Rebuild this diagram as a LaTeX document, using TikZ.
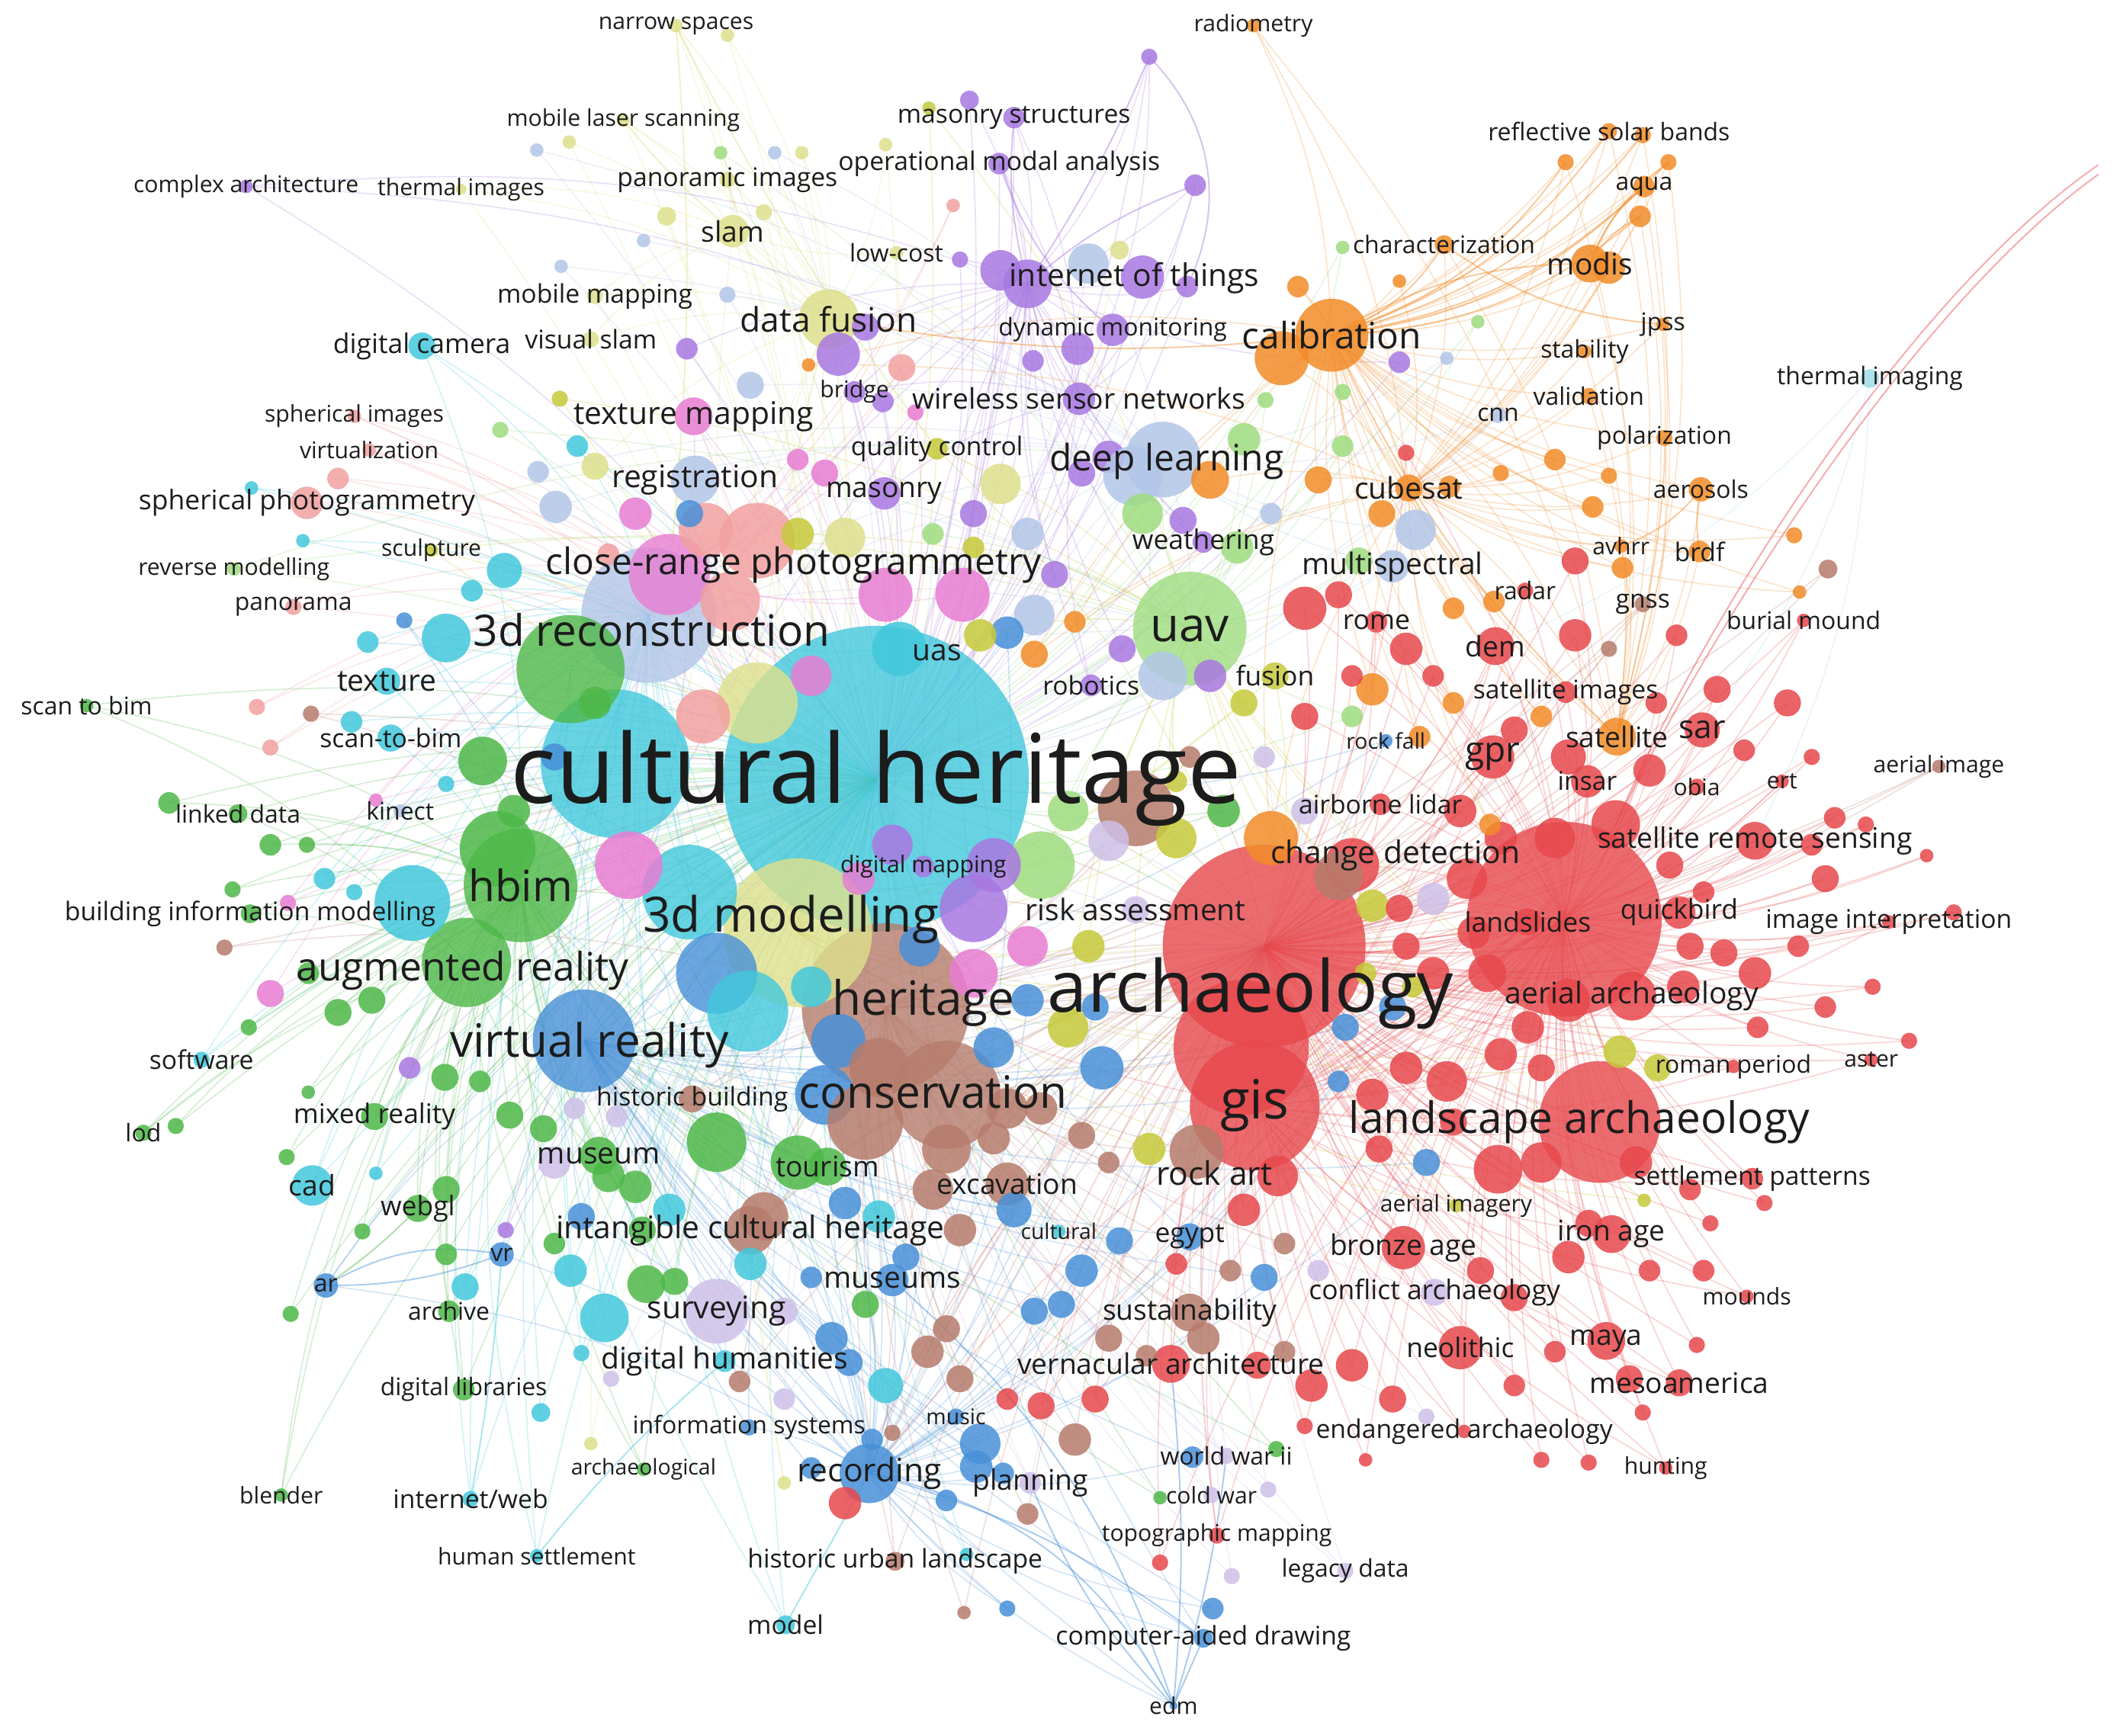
\documentclass[tikz,border=0pt]{standalone}
\usepackage{fontspec}
\setmainfont{Open Sans}
\definecolor{cRed}{RGB}{231,72,76}
\definecolor{cGreen}{RGB}{78,184,72}
\definecolor{cBlue}{RGB}{72,144,216}
\definecolor{cYellow}{RGB}{198,202,58}
\definecolor{cPurple}{RGB}{168,120,225}
\definecolor{cCyan}{RGB}{66,200,220}
\definecolor{cOrange}{RGB}{242,140,40}
\definecolor{cBrown}{RGB}{182,124,108}
\definecolor{cPink}{RGB}{232,125,210}
\definecolor{cSalmon}{RGB}{242,160,160}
\definecolor{cLBlue}{RGB}{178,198,232}
\definecolor{cLGreen}{RGB}{158,220,128}
\definecolor{cLav}{RGB}{206,192,232}
\definecolor{cPYellow}{RGB}{222,224,140}
\definecolor{cLCyan}{RGB}{160,220,232}
\definecolor{txt}{RGB}{28,28,28}
\tikzset{
  lnk/.style={draw=#1, line width=0.9pt, draw opacity=0.24},
  lnkS/.style={draw=#1, line width=1.1pt, draw opacity=0.45},
  lbl/.style={text=txt, inner sep=0pt}
}
% hubs per colour
\def\hubcRed{archaeology}\def\hubbcRed{bigred}\def\hubccRed{gis}
\def\hubcGreen{hbim}\def\hubbcGreen{culturalheritage}\def\hubccGreen{augreality}
\def\hubcBlue{virtualreality}\def\hubbcBlue{recording}\def\hubccBlue{culturalheritage}
\def\hubcYellow{threedmod}\def\hubbcYellow{uav}\def\hubccYellow{archaeology}
\def\hubcPurple{iot}\def\hubbcPurple{culturalheritage}\def\hubccPurple{wsn}
\def\hubcCyan{culturalheritage}\def\hubbcCyan{threedreco}\def\hubccCyan{hbim}
\def\hubcOrange{calibration}\def\hubbcOrange{cubesat}\def\hubccOrange{satellite}
\def\hubcBrown{heritage}\def\hubbcBrown{archaeology}\def\hubccBrown{conservation}
\def\hubcPink{closerange}\def\hubbcPink{culturalheritage}\def\hubccPink{threedmod}
\def\hubcSalmon{closerange}\def\hubbcSalmon{threedreco}\def\hubccSalmon{culturalheritage}
\def\hubcLBlue{deeplearning}\def\hubbcLBlue{culturalheritage}\def\hubccLBlue{uav}
\def\hubcLGreen{uav}\def\hubbcLGreen{culturalheritage}\def\hubccLGreen{deeplearning}
\def\hubcLav{archaeology}\def\hubbcLav{heritage}\def\hubccLav{culturalheritage}
\def\hubcPYellow{datafusion}\def\hubbcPYellow{threedmod}\def\hubccPYellow{slam}
\def\hubcLCyan{sar}\def\hubbcLCyan{dem}\def\hubccLCyan{satrs}
\newcount\blobc
\newcommand\edgeto[3]{\edef\eA{#1}\edef\eB{#2}\ifx\eA\eB\else\draw[lnk=#3] (\eA) to[bend left=12] (\eB);\fi}
\newcommand\LB[5]{\node[lbl] (#1) at (#2,#3) {\fontsize{#4}{#4}\selectfont #5};}
% ---------------- keyword nodes: name, x, y, r, colour, font size, label
\newcommand\kwlist{%
\KW{culturalheritage}{648}{576}{113}{cCyan}{71}{cultural heritage}
\KW{chleft}{455}{565}{55}{cCyan}{0}{}
\KW{archaeology}{935}{700}{75}{cRed}{0}{}
\KW{archb}{918}{775}{50}{cRed}{0}{}
\KW{gis}{928}{818}{48}{cRed}{40}{gis}
\KW{bigred}{1157}{680}{72}{cRed}{0}{}
\KW{landscapearch}{1183}{830}{45}{cRed}{0}{}
\KW{heritage}{655}{745}{62}{cBrown}{0}{}
\KW{conservation}{700}{810}{40}{cBrown}{0}{}
\KW{threedmod}{590}{690}{55}{cPYellow}{0}{}
\KW{uav}{880}{465}{42}{cLGreen}{35}{uav}
\KW{threedreco}{480}{455}{50}{cLBlue}{0}{}
\KW{recogreen}{422}{495}{40}{cGreen}{0}{}
\KW{virtualreality}{432}{770}{38}{cBlue}{0}{}
\KW{hbim}{385}{655}{42}{cGreen}{32}{hbim}
\KW{hbimb}{368}{628}{28}{cGreen}{0}{}
\KW{augreality}{345}{712}{33}{cGreen}{0}{}
\KW{deeplearning}{860}{340}{28}{cLBlue}{0}{}
\KW{calibration}{985}{248}{27}{cOrange}{27}{calibration}
\KW{closerange}{495}{425}{30}{cPink}{0}{}
\KW{datafusion}{613}{236}{22}{cPYellow}{25}{data fusion}
\KW{iot}{760}{210}{18}{cPurple}{0}{}
\KW{recording}{643}{1090}{22}{cBlue}{24}{recording}
\KW{changedet}{1000}{640}{20}{cRed}{0}{}
\KW{rockart}{885}{852}{20}{cBrown}{0}{}
\KW{rsb}{1195}{610}{18}{cRed}{0}{}
\KW{intangible}{555}{910}{18}{cBrown}{23}{intangible cultural heritage}
\KW{museum}{443}{855}{14}{cGreen}{22}{museum}
\KW{museums}{660}{947}{12}{cBlue}{22}{museums}
\KW{surveying}{530}{970}{24}{cLav}{23}{surveying}
\KW{dighum}{536}{1007}{8}{cCyan}{22}{digital humanities}
\KW{planning}{762}{1097}{8}{cLav}{21}{planning}
\KW{sustainability}{880}{971}{14}{cBrown}{21}{sustainability}
\KW{vernacular}{866}{1009}{14}{cRed}{21}{vernacular architecture}
\KW{egypt}{880}{915}{10}{cBlue}{20}{egypt}
\KW{excavation}{745}{876}{16}{cBrown}{21}{excavation}
\KW{tourism}{612}{863}{14}{cGreen}{21}{tourism}
\KW{histbuilding}{512}{813}{10}{cBrown}{19}{historic building}
\KW{riskassess}{840}{673}{10}{cLav}{22}{risk assessment}
\KW{digmapping}{683}{641}{8}{cPurple}{17}{digital mapping}
\KW{airbornelidar}{1021}{595}{8}{cRed}{19}{airborne lidar}
\KW{rockfall}{1025}{548}{5}{cBlue}{16}{rock fall}
\KW{fusion}{943}{500}{10}{cYellow}{20}{fusion}
\KW{robotics}{807}{507}{8}{cPurple}{19}{robotics}
\KW{uas}{665}{480}{20}{cCyan}{0}{}
\KW{rome}{1018}{460}{8}{cRed}{20}{rome}
\KW{multispectral}{1030}{419}{12}{cLBlue}{22}{multispectral}
\KW{cubesat}{1042}{361}{10}{cOrange}{22}{cubesat}
\KW{weathering}{890}{401}{8}{cPurple}{20}{weathering}
\KW{wsn}{798}{295}{12}{cPurple}{21}{wireless sensor networks}
\KW{qualitycontrol}{693}{332}{8}{cYellow}{19}{quality control}
\KW{masonry}{654}{365}{12}{cPurple}{21}{masonry}
\KW{bridge}{632}{290}{8}{cPurple}{17}{bridge}
\KW{dynmon}{823}{244}{12}{cPurple}{18}{dynamic monitoring}
\KW{texturemapping}{513}{308}{14}{cPink}{23}{texture mapping}
\KW{registration}{514}{355}{18}{cLBlue}{23}{registration}
\KW{slam}{542}{171}{12}{cPYellow}{21}{slam}
\KW{lowcost}{663}{187}{5}{cPYellow}{18}{low-cost}
\KW{panoramic}{538}{133}{6}{cPYellow}{19}{panoramic images}
\KW{masonrystruct}{750}{87}{8}{cPurple}{19}{masonry structures}
\KW{oma}{739}{121}{8}{cPurple}{19}{operational modal analysis}
\KW{purpletop}{850}{42}{6}{cPurple}{0}{}
\KW{purpleR}{884}{137}{8}{cPurple}{0}{}
\KW{pr}{878}{212}{8}{cPurple}{0}{}
\KW{narrowspaces}{500}{19}{5}{cPYellow}{17}{narrow spaces}
\KW{radiometry}{927}{19}{5}{cOrange}{17}{radiometry}
\KW{mobilelaser}{461}{89}{5}{cPYellow}{17}{mobile laser scanning}
\KW{complexarch}{182}{138}{5}{cPurple}{17}{complex architecture}
\KW{thermalimages}{341}{140}{4}{cPYellow}{17}{thermal images}
\KW{mobilemapping}{440}{219}{6}{cPYellow}{19}{mobile mapping}
\KW{visualslam}{437}{251}{6}{cPYellow}{19}{visual slam}
\KW{digitalcamera}{312}{256}{10}{cCyan}{20}{digital camera}
\KW{sphericalimages}{262}{308}{5}{cSalmon}{17}{spherical images}
\KW{virtualization}{273}{333}{5}{cSalmon}{17}{virtualization}
\KW{sphericalphoto}{227}{372}{12}{cSalmon}{20}{spherical photogrammetry}
\KW{sculpture}{319}{407}{5}{cYellow}{17}{sculpture}
\KW{reversemod}{173}{421}{5}{cLGreen}{17}{reverse modelling}
\KW{panorama}{217}{449}{6}{cSalmon}{18}{panorama}
\KW{texture}{286}{504}{10}{cCyan}{22}{texture}
\KW{scantobim}{64}{522}{5}{cGreen}{18}{scan to bim}
\KW{scantobimb}{289}{546}{10}{cCyan}{19}{scan-to-bim}
\KW{linkeddata}{176}{602}{7}{cGreen}{18}{linked data}
\KW{kinect}{296}{600}{5}{cLBlue}{18}{kinect}
\KW{bim}{185}{676}{7}{cGreen}{19}{building information modelling}
\KW{software}{149}{784}{6}{cCyan}{19}{software}
\KW{lod}{106}{838}{6}{cGreen}{18}{lod}
\KW{mixedreality}{277}{826}{10}{cGreen}{20}{mixed reality}
\KW{cad}{231}{877}{15}{cCyan}{21}{cad}
\KW{webgl}{309}{894}{10}{cGreen}{20}{webgl}
\KW{vr}{371}{928}{9}{cBlue}{18}{vr}
\KW{ar}{241}{951}{9}{cBlue}{18}{ar}
\KW{archive}{332}{970}{8}{cGreen}{18}{archive}
\KW{diglibraries}{343}{1028}{8}{cGreen}{18}{digital libraries}
\KW{blender}{208}{1106}{5}{cGreen}{17}{blender}
\KW{internetweb}{348}{1109}{6}{cCyan}{19}{internet/web}
\KW{humansettle}{397}{1151}{5}{cCyan}{17}{human settlement}
\KW{archaeological}{476}{1087}{5}{cGreen}{16}{archaeological}
\KW{infosystems}{554}{1056}{6}{cBlue}{18}{information systems}
\KW{music}{707}{1048}{6}{cBlue}{16}{music}
\KW{hul}{662}{1155}{7}{cBrown}{19}{historic urban landscape}
\KW{model}{581}{1202}{7}{cCyan}{19}{model}
\KW{edm}{868}{1262}{3}{cBlue}{17}{edm}
\KW{cadraw}{890}{1212}{7}{cBlue}{19}{computer-aided drawing}
\KW{legacydata}{995}{1162}{6}{cLav}{18}{legacy data}
\KW{topomapping}{900}{1136}{6}{cRed}{17}{topographic mapping}
\KW{coldwar}{896}{1106}{6}{cLav}{17}{cold war}
\KW{wwii}{907}{1077}{6}{cLav}{18}{world war ii}
\KW{cultural}{783}{911}{5}{cCyan}{16}{cultural}
\KW{endangered}{1083}{1059}{5}{cRed}{19}{endangered archaeology}
\KW{hunting}{1232}{1086}{5}{cRed}{17}{hunting}
\KW{mesoamerica}{1242}{1023}{10}{cRed}{21}{mesoamerica}
\KW{maya}{1188}{992}{14}{cRed}{21}{maya}
\KW{neolithic}{1080}{997}{16}{cRed}{20}{neolithic}
\KW{conflictarch}{1061}{956}{10}{cLav}{20}{conflict archaeology}
\KW{mounds}{1292}{959}{5}{cRed}{17}{mounds}
\KW{bronzeage}{1038}{923}{16}{cRed}{21}{bronze age}
\KW{ironage}{1192}{913}{14}{cRed}{21}{iron age}
\KW{aerialimagery}{1077}{892}{5}{cYellow}{17}{aerial imagery}
\KW{settlement}{1296}{872}{8}{cRed}{19}{settlement patterns}
\KW{aster}{1384}{784}{5}{cRed}{17}{aster}
\KW{romanperiod}{1282}{789}{5}{cRed}{18}{roman period}
\KW{aerialarch}{1207}{737}{18}{cRed}{22}{aerial archaeology}
\KW{imageinterp}{1397}{682}{5}{cRed}{19}{image interpretation}
\KW{quickbird}{1242}{675}{12}{cRed}{20}{quickbird}
\KW{landslides}{1130}{682}{10}{cRed}{20}{landslides}
\KW{satrs}{1298}{622}{14}{cRed}{21}{satellite remote sensing}
\KW{ert}{1318}{578}{5}{cRed}{17}{ert}
\KW{obia}{1255}{582}{6}{cRed}{17}{obia}
\KW{insar}{1174}{578}{12}{cRed}{19}{insar}
\KW{gpr}{1104}{560}{16}{cRed}{26}{gpr}
\KW{sar}{1259}{540}{13}{cRed}{24}{sar}
\KW{satellite}{1196}{545}{14}{cOrange}{21}{satellite}
\KW{satimages}{1158}{512}{8}{cRed}{19}{satellite images}
\KW{dem}{1106}{478}{14}{cRed}{21}{dem}
\KW{radar}{1128}{437}{6}{cRed}{18}{radar}
\KW{gnss}{1215}{447}{6}{cBrown}{19}{gnss}
\KW{burialmound}{1334}{459}{5}{cRed}{18}{burial mound}
\KW{aerialimage}{1434}{567}{5}{cBrown}{17}{aerial image}
\KW{avhrr}{1199}{404}{5}{cOrange}{17}{avhrr}
\KW{brdf}{1257}{408}{8}{cOrange}{19}{brdf}
\KW{aerosols}{1258}{362}{9}{cOrange}{18}{aerosols}
\KW{polarization}{1231}{324}{6}{cOrange}{18}{polarization}
\KW{validation}{1175}{293}{6}{cOrange}{18}{validation}
\KW{cnn}{1108}{307}{6}{cLBlue}{18}{cnn}
\KW{thermalimaging}{1383}{280}{7}{cLCyan}{18}{thermal imaging}
\KW{stability}{1172}{260}{5}{cOrange}{18}{stability}
\KW{jpss}{1230}{240}{5}{cOrange}{18}{jpss}
\KW{modis}{1176}{195}{14}{cOrange}{22}{modis}
\KW{aqua}{1216}{138}{8}{cOrange}{18}{aqua}
\KW{reflective}{1190}{97}{6}{cOrange}{18}{reflective solar bands}
\KW{characterization}{1068}{181}{7}{cOrange}{18}{characterization}
\KW{oa}{1158}{120}{6}{cOrange}{0}{}
\KW{ob}{1234}{120}{6}{cOrange}{0}{}
\KW{oc}{1213}{160}{8}{cOrange}{0}{}
\KW{od}{1215}{100}{6}{cOrange}{0}{}
}
% ---------------- unlabelled circles: x, y, r, colour
\newcommand\bloblist{%
\BL{397}{111}{5}{cLBlue}\BL{421}{105}{5}{cPYellow}\BL{415}{197}{5}{cLBlue}\BL{476}{178}{5}{cLBlue}
\BL{493}{160}{7}{cPYellow}\BL{565}{157}{6}{cPYellow}\BL{573}{113}{5}{cLBlue}\BL{593}{113}{5}{cPYellow}
\BL{533}{113}{5}{cLGreen}\BL{538}{26}{5}{cPYellow}\BL{538}{218}{6}{cLBlue}\BL{508}{258}{8}{cPurple}
\BL{555}{285}{10}{cLBlue}\BL{414}{295}{6}{cYellow}\BL{427}{330}{8}{cCyan}\BL{398}{349}{8}{cLBlue}
\BL{370}{318}{6}{cLGreen}\BL{411}{375}{12}{cLBlue}\BL{440}{345}{10}{cPYellow}\BL{640}{242}{10}{cPurple}
\BL{620}{262}{16}{cPurple}\BL{667}{272}{10}{cSalmon}\BL{598}{270}{5}{cOrange}\BL{653}{297}{8}{cPurple}
\BL{677}{305}{6}{cPink}\BL{705}{152}{5}{cSalmon}\BL{687}{80}{5}{cYellow}\BL{655}{107}{5}{cPYellow}
\BL{717}{74}{7}{cPurple}\BL{710}{192}{6}{cPurple}\BL{740}{200}{15}{cPurple}\BL{805}{195}{15}{cLBlue}
\BL{797}{258}{12}{cPurple}\BL{845}{205}{16}{cPurple}\BL{828}{185}{7}{cPYellow}\BL{764}{267}{8}{cPurple}
\BL{820}{338}{12}{cPurple}\BL{838}{352}{22}{cLBlue}\BL{895}{355}{14}{cOrange}\BL{920}{325}{12}{cLGreen}
\BL{936}{296}{6}{cLGreen}\BL{960}{212}{8}{cOrange}\BL{948}{265}{20}{cOrange}\BL{1035}{268}{8}{cPurple}
\BL{993}{290}{6}{cLGreen}\BL{1070}{265}{5}{cLBlue}\BL{1093}{238}{5}{cLGreen}\BL{1035}{208}{5}{cOrange}
\BL{993}{183}{5}{cLGreen}\BL{1190}{198}{12}{cOrange}
\BL{560}{400}{28}{cSalmon}\BL{522}{392}{20}{cSalmon}\BL{540}{445}{22}{cSalmon}\BL{590}{395}{12}{cYellow}
\BL{625}{398}{15}{cPYellow}\BL{655}{440}{20}{cPink}\BL{712}{440}{20}{cPink}\BL{690}{395}{8}{cLGreen}
\BL{720}{405}{8}{cYellow}\BL{740}{358}{15}{cPYellow}\BL{720}{380}{10}{cPurple}\BL{760}{395}{12}{cLBlue}
\BL{780}{425}{10}{cPurple}\BL{800}{350}{10}{cPurple}\BL{845}{380}{15}{cLGreen}\BL{875}{385}{10}{cPurple}
\BL{915}{405}{12}{cLGreen}\BL{940}{380}{8}{cLBlue}\BL{975}{355}{10}{cOrange}\BL{993}{330}{8}{cLGreen}
\BL{1040}{335}{6}{cRed}\BL{1047}{392}{15}{cLBlue}\BL{1022}{380}{10}{cOrange}\BL{1005}{415}{10}{cLGreen}
\BL{1072}{360}{8}{cOrange}\BL{1110}{350}{6}{cOrange}\BL{1150}{340}{8}{cOrange}\BL{1190}{352}{6}{cOrange}
\BL{1178}{375}{8}{cOrange}\BL{1165}{415}{10}{cRed}\BL{1200}{420}{8}{cOrange}\BL{1105}{445}{8}{cOrange}
\BL{1327}{396}{6}{cOrange}\BL{1352}{421}{7}{cBrown}\BL{1331}{438}{5}{cOrange}\BL{610}{350}{10}{cPink}
\BL{590}{340}{8}{cPink}\BL{470}{380}{12}{cPink}\BL{450}{410}{8}{cSalmon}\BL{510}{380}{10}{cBlue}
\BL{765}{455}{15}{cLBlue}\BL{745}{468}{12}{cBlue}\BL{795}{460}{8}{cOrange}\BL{830}{480}{10}{cPurple}
\BL{765}{484}{10}{cOrange}\BL{725}{470}{12}{cYellow}\BL{860}{500}{18}{cLBlue}\BL{895}{500}{12}{cPurple}
\BL{920}{520}{10}{cYellow}\BL{965}{450}{16}{cRed}\BL{990}{440}{10}{cRed}\BL{1015}{510}{12}{cOrange}
\BL{1040}{480}{12}{cRed}\BL{1060}{500}{8}{cRed}\BL{1075}{450}{8}{cOrange}\BL{965}{530}{10}{cRed}
\BL{935}{560}{8}{cLav}\BL{1000}{530}{8}{cLGreen}\BL{1050}{545}{8}{cOrange}
\BL{560}{520}{30}{cPYellow}\BL{520}{530}{20}{cSalmon}\BL{600}{500}{15}{cPink}\BL{770}{640}{25}{cLGreen}
\BL{790}{600}{15}{cLGreen}\BL{760}{700}{15}{cPink}\BL{805}{700}{12}{cYellow}\BL{790}{760}{15}{cYellow}
\BL{810}{745}{10}{cBlue}\BL{735}{640}{20}{cPurple}\BL{720}{672}{25}{cPurple}\BL{720}{720}{18}{cPink}
\BL{760}{740}{12}{cBlue}\BL{735}{775}{15}{cBlue}\BL{840}{598}{28}{cBrown}\BL{820}{622}{15}{cLav}
\BL{870}{620}{15}{cYellow}\BL{905}{600}{12}{cGreen}\BL{940}{620}{20}{cOrange}\BL{965}{600}{10}{cLav}
\BL{880}{560}{8}{cBrown}\BL{870}{578}{8}{cYellow}\BL{990}{648}{18}{cBrown}\BL{1015}{670}{12}{cYellow}
\BL{1035}{672}{10}{cRed}\BL{1060}{665}{12}{cLav}\BL{1085}{650}{15}{cRed}\BL{1090}{690}{12}{cRed}
\BL{1040}{700}{10}{cRed}\BL{1060}{720}{12}{cRed}\BL{1030}{745}{10}{cBlue}\BL{1010}{720}{8}{cYellow}
\BL{995}{760}{10}{cBlue}\BL{990}{800}{8}{cBlue}\BL{1045}{730}{8}{cYellow}\BL{660}{625}{15}{cPurple}
\BL{635}{650}{12}{cPink}\BL{680}{700}{15}{cBlue}\BL{620}{770}{20}{cBlue}\BL{650}{790}{22}{cBrown}
\BL{600}{730}{15}{cCyan}\BL{745}{820}{15}{cBrown}\BL{735}{842}{12}{cBrown}\BL{770}{820}{12}{cBrown}
\BL{690}{880}{15}{cBrown}\BL{710}{910}{12}{cBrown}\BL{650}{900}{12}{cCyan}\BL{625}{890}{12}{cBlue}
\BL{590}{860}{20}{cGreen}\BL{565}{900}{18}{cBrown}\BL{555}{935}{12}{cCyan}\BL{495}{895}{12}{cCyan}
\BL{475}{910}{10}{cGreen}\BL{450}{870}{12}{cGreen}\BL{510}{660}{35}{cCyan}\BL{530}{720}{30}{cBlue}
\BL{553}{748}{30}{cCyan}\BL{465}{640}{25}{cPink}\BL{357}{563}{18}{cGreen}\BL{305}{668}{28}{cCyan}
\BL{330}{472}{18}{cCyan}\BL{373}{422}{13}{cCyan}\BL{530}{845}{22}{cGreen}\BL{610}{810}{22}{cBlue}
\BL{815}{790}{16}{cBlue}\BL{750}{895}{13}{cBlue}\BL{640}{830}{28}{cBrown}\BL{700}{850}{18}{cBrown}
\BL{945}{870}{15}{cRed}\BL{920}{895}{12}{cRed}\BL{850}{850}{12}{cYellow}\BL{820}{860}{8}{cBrown}
\BL{800}{840}{10}{cBrown}\BL{870}{935}{8}{cRed}\BL{935}{945}{10}{cBlue}\BL{950}{920}{8}{cBrown}
\BL{910}{940}{8}{cBrown}\BL{975}{940}{8}{cLav}\BL{828}{918}{10}{cBlue}\BL{800}{940}{12}{cBlue}
\BL{785}{965}{10}{cBlue}\BL{765}{970}{10}{cBlue}\BL{820}{990}{10}{cBrown}\BL{848}{1003}{8}{cBrown}
\BL{890}{990}{12}{cBrown}\BL{930}{1010}{10}{cRed}\BL{950}{1000}{8}{cBrown}\BL{810}{1035}{10}{cRed}
\BL{770}{1040}{10}{cRed}\BL{745}{1035}{8}{cRed}\BL{795}{1065}{12}{cBrown}\BL{725}{1068}{15}{cBlue}
\BL{722}{1085}{12}{cBlue}\BL{742}{1090}{8}{cBlue}\BL{760}{1120}{8}{cBrown}\BL{700}{1110}{8}{cBlue}
\BL{686}{1000}{12}{cBrown}\BL{700}{983}{10}{cBrown}\BL{710}{1020}{10}{cBrown}\BL{670}{930}{10}{cBlue}
\BL{655}{1025}{13}{cCyan}\BL{628}{1008}{10}{cBlue}\BL{615}{990}{12}{cBlue}\BL{640}{965}{10}{cGreen}
\BL{600}{945}{8}{cBlue}\BL{580}{970}{10}{cLav}\BL{547}{1022}{8}{cBrown}\BL{580}{1035}{8}{cLav}
\BL{645}{1065}{8}{cBlue}\BL{625}{1112}{12}{cRed}\BL{580}{1097}{5}{cPYellow}\BL{600}{1086}{8}{cBlue}
\BL{715}{1150}{5}{cCyan}\BL{713}{1193}{5}{cBrown}\BL{745}{1190}{6}{cBlue}\BL{858}{1156}{6}{cRed}
\BL{882}{1078}{8}{cBlue}\BL{944}{1072}{6}{cGreen}\BL{897}{1190}{8}{cBlue}\BL{938}{1102}{6}{cLav}
\BL{911}{1166}{6}{cLav}\BL{858}{1108}{5}{cGreen}\BL{1055}{1048}{6}{cLav}\BL{660}{1060}{6}{cBrown}
\BL{215}{972}{6}{cGreen}\BL{268}{911}{6}{cGreen}\BL{278}{868}{5}{cCyan}\BL{330}{928}{8}{cGreen}
\BL{344}{952}{10}{cCyan}\BL{374}{910}{6}{cPurple}\BL{410}{920}{8}{cGreen}\BL{422}{940}{12}{cCyan}
\BL{447}{975}{18}{cCyan}\BL{430}{1001}{6}{cCyan}\BL{452}{1020}{6}{cLav}\BL{499}{948}{10}{cGreen}
\BL{478}{950}{14}{cGreen}\BL{400}{1045}{7}{cCyan}\BL{437}{1068}{5}{cPYellow}\BL{330}{880}{10}{cGreen}
\BL{303}{790}{8}{cPurple}\BL{329}{797}{10}{cGreen}\BL{355}{800}{8}{cGreen}\BL{377}{825}{10}{cGreen}
\BL{402}{835}{10}{cGreen}\BL{425}{820}{8}{cLav}\BL{456}{826}{8}{cLav}\BL{470}{878}{12}{cGreen}
\BL{430}{900}{10}{cBlue}\BL{410}{860}{12}{cLav}\BL{250}{749}{10}{cGreen}\BL{275}{740}{10}{cGreen}
\BL{200}{735}{10}{cPink}\BL{228}{720}{8}{cGreen}\BL{166}{701}{6}{cBrown}\BL{172}{658}{6}{cGreen}
\BL{200}{625}{8}{cGreen}\BL{227}{625}{6}{cGreen}\BL{213}{668}{6}{cPink}\BL{240}{650}{8}{cCyan}
\BL{262}{660}{6}{cCyan}\BL{125}{594}{8}{cGreen}\BL{190}{523}{6}{cSalmon}\BL{200}{553}{6}{cSalmon}
\BL{230}{528}{6}{cBrown}\BL{260}{534}{8}{cCyan}\BL{272}{475}{8}{cCyan}\BL{278}{592}{5}{cPink}
\BL{330}{580}{6}{cCyan}\BL{299}{459}{6}{cBlue}\BL{349}{437}{8}{cCyan}\BL{250}{354}{8}{cSalmon}
\BL{186}{361}{5}{cCyan}\BL{224}{400}{5}{cCyan}\BL{130}{833}{6}{cGreen}\BL{228}{808}{5}{cGreen}
\BL{212}{856}{6}{cGreen}\BL{184}{760}{6}{cGreen}\BL{380}{600}{12}{cGreen}\BL{410}{560}{10}{cBlue}
\BL{440}{520}{12}{cGreen}
\BL{1120}{540}{10}{cRed}\BL{1160}{560}{13}{cRed}\BL{1220}{570}{12}{cRed}\BL{1225}{520}{8}{cRed}
\BL{1270}{510}{10}{cRed}\BL{1322}{520}{10}{cRed}\BL{1290}{555}{8}{cRed}\BL{1340}{560}{6}{cRed}
\BL{1357}{605}{8}{cRed}\BL{1340}{625}{8}{cRed}\BL{1235}{640}{10}{cRed}
\BL{1260}{660}{8}{cRed}\BL{1350}{650}{10}{cRed}\BL{1380}{610}{6}{cRed}\BL{1425}{633}{5}{cRed}
\BL{1298}{720}{12}{cRed}\BL{1275}{705}{10}{cRed}\BL{1330}{700}{8}{cRed}\BL{1350}{745}{8}{cRed}
\BL{1412}{770}{6}{cRed}\BL{1300}{760}{8}{cRed}\BL{1245}{730}{12}{cRed}\BL{1385}{730}{6}{cRed}
\BL{1445}{675}{6}{cRed}\BL{1226}{790}{10}{cYellow}\BL{1198}{778}{12}{cYellow}\BL{1140}{790}{10}{cRed}
\BL{1110}{780}{12}{cRed}\BL{1070}{800}{15}{cRed}\BL{1040}{790}{12}{cRed}\BL{1015}{810}{12}{cRed}
\BL{1055}{860}{10}{cBlue}\BL{1108}{865}{18}{cRed}\BL{1140}{860}{15}{cRed}\BL{1020}{850}{10}{cRed}
\BL{1075}{830}{10}{cRed}\BL{1210}{860}{12}{cRed}\BL{1250}{880}{8}{cRed}\BL{1216}{888}{5}{cYellow}
\BL{1265}{905}{6}{cRed}\BL{1305}{890}{6}{cRed}\BL{1160}{930}{12}{cRed}\BL{1175}{905}{10}{cRed}
\BL{1220}{940}{8}{cRed}\BL{1260}{940}{8}{cRed}\BL{1095}{940}{10}{cRed}\BL{1120}{960}{10}{cRed}
\BL{1150}{1000}{8}{cRed}\BL{1205}{1020}{10}{cRed}\BL{1000}{1010}{12}{cRed}\BL{970}{1025}{12}{cRed}
\BL{1030}{1035}{10}{cRed}\BL{1120}{1025}{8}{cRed}\BL{1140}{1080}{6}{cRed}\BL{1175}{1082}{6}{cRed}
\BL{1215}{1045}{6}{cRed}\BL{1255}{995}{6}{cRed}\BL{965}{1055}{6}{cRed}\BL{1010}{1080}{5}{cRed}
\BL{1000}{500}{8}{cRed}\BL{1080}{600}{12}{cRed}\BL{1150}{620}{15}{cRed}\BL{1110}{620}{12}{cRed}
\BL{1100}{720}{14}{cRed}\BL{1160}{740}{16}{cRed}\BL{1130}{760}{12}{cRed}\BL{1250}{700}{10}{cRed}
\BL{1165}{470}{12}{cRed}\BL{1190}{480}{6}{cBrown}\BL{1240}{470}{8}{cRed}\BL{1075}{520}{8}{cOrange}
\BL{1140}{530}{8}{cOrange}\BL{1102}{610}{8}{cOrange}
}
\begin{document}
\begin{tikzpicture}[x=1pt,y=-1pt]
\fill[white] (0,0) rectangle (1568,1284);
\useasboundingbox (0,0) rectangle (1568,1284);
% pass 1: coordinates
\def\KW#1#2#3#4#5#6#7{\coordinate (#1) at (#2,#3);}
\def\BL#1#2#3#4{\global\advance\blobc by 1\relax\coordinate (b\the\blobc) at (#1,#2);}
\kwlist
\global\blobc=0 \bloblist
% far (off-picture) ends of the long double link and its control points
\coordinate (farA) at (1552,122);
\coordinate (farB) at (1552,129);
\coordinate (farA1) at (1410,220);
\coordinate (farA2) at (1258,462);
\coordinate (farB1) at (1414,228);
\coordinate (farB2) at (1265,466);
% pass 2: links
\def\KW#1#2#3#4#5#6#7{\edgeto{#1}{\csname hub#5\endcsname}{#5}\edgeto{#1}{\csname hubb#5\endcsname}{#5}\edgeto{#1}{\csname hubc#5\endcsname}{#5}}
\def\BL#1#2#3#4{\global\advance\blobc by 1\relax\edgeto{b\the\blobc}{\csname hub#4\endcsname}{#4}\edgeto{b\the\blobc}{\csname hubb#4\endcsname}{#4}}
\kwlist
\global\blobc=0 \bloblist
\draw[lnk=cGreen] (culturalheritage) to[bend left=10] (archaeology);
\draw[lnk=cRed] (archaeology) to[bend left=10] (heritage);
\draw[lnk=cRed] (gis) to[bend left=10] (threedmod);
\draw[lnk=cBrown] (heritage) to[bend left=10] (landscapearch);
\draw[lnkS=cRed] (farA) .. controls (farA1) and (farA2) .. (rsb);
\draw[lnkS=cRed] (farB) .. controls (farB1) and (farB2) .. (rsb);
\foreach \t in {oa,ob,oc,od,aqua,reflective,characterization}
  \draw[lnkS=cOrange] (calibration) to[bend right=18] (\t);
\foreach \t in {aqua,oc,ob}
  \draw[lnkS=cOrange] (modis) to[bend left=15] (\t);
\draw[lnkS=cOrange] (modis) to[bend right=15] (calibration);
\draw[lnkS=cOrange] (characterization) to[bend right=15] (jpss);
\draw[lnkS=cOrange] (calibration) to[bend left=8] (datafusion);
\draw[lnkS=cOrange] (aerosols) to[bend left=15] (avhrr);
\draw[lnkS=cOrange] (aerosols) to[bend right=10] (brdf);
\draw[lnkS=cOrange] (calibration) to[bend right=10] (satellite);
\draw[lnkS=cPurple] (purpletop) to[bend left=5] (iot);
\draw[lnkS=cPurple] (purpletop) to[bend left=35] (pr);
\draw[lnkS=cPurple] (masonrystruct) to[bend right=10] (iot);
\draw[lnkS=cPurple] (oma) to[bend right=15] (dynmon);
\draw[lnkS=cPurple] (purpleR) to[bend right=10] (iot);
\draw[lnkS=cPYellow] (narrowspaces) to[bend left=5] (closerange);
\draw[lnkS=cPYellow] (narrowspaces) to[bend right=5] (qualitycontrol);
\draw[lnkS=cPYellow] (mobilelaser) to[bend right=5] (slam);
\draw[lnkS=cBlue] (recording) to[bend left=25] (edm);
\draw[lnkS=cBlue] (cadraw) to (edm);
\draw[lnkS=cBlue] (planning) to[bend right=10] (edm);
\draw[lnkS=cBlue] (vernacular) to[bend left=5] (edm);
\draw[lnkS=cBlue] (wwii) to[bend left=5] (edm);
\draw[lnkS=cBlue] (museums) to[bend left=15] (edm);
\draw[lnkS=cBlue] (recording) to[bend left=10] (cadraw);
\draw[lnkS=cCyan] (recording) to (model);
\draw[lnkS=cCyan] (internetweb) to[bend right=3] (vr);
\draw[lnkS=cBlue] (ar) to[bend right=10] (vr);
\draw[lnkS=cBlue] (ar) to[bend left=20] (vr);
\draw[lnkS=cGreen] (ar) to[bend right=5] (webgl);
\draw[lnkS=cCyan] (humansettle) to[bend left=5] (dighum);
% pass 3: large circles
\def\KW#1#2#3#4#5#6#7{\ifnum#4>29 \fill[#5,fill opacity=.8] (#1) circle[radius=#4pt];\fi}
\def\BL#1#2#3#4{\global\advance\blobc by 1\relax\ifnum#3>29 \fill[#4,fill opacity=.8] (b\the\blobc) circle[radius=#3pt];\fi}
\kwlist
\global\blobc=0 \bloblist
% pass 4: small circles
\def\KW#1#2#3#4#5#6#7{\ifnum#4<30 \fill[#5,fill opacity=.85] (#1) circle[radius=#4pt];\fi}
\def\BL#1#2#3#4{\global\advance\blobc by 1\relax\ifnum#3<30 \fill[#4,fill opacity=.85] (b\the\blobc) circle[radius=#3pt];\fi}
\kwlist
\global\blobc=0 \bloblist
% pass 5: labels
\def\KW#1#2#3#4#5#6#7{\if\relax\detokenize{#7}\relax\else\node[lbl] (#1l) at (#1) {\fontsize{#6}{#6}\selectfont #7};\fi}
\def\BL#1#2#3#4{}
\kwlist
\LB{archaeologyl}{925}{735}{53}{archaeology}
\LB{landscapel}{1168}{830}{32}{landscape archaeology}
\LB{heritagel}{683}{742}{35}{heritage}
\LB{conservationl}{690}{808}{33}{conservation}
\LB{threedmodl}{585}{680}{36}{3d modelling}
\LB{threedrecol}{482}{466}{32}{3d reconstruction}
\LB{vrealityl}{436}{773}{34}{virtual reality}
\LB{augrealityl}{342}{718}{29}{augmented reality}
\LB{deeplearningl}{863}{341}{27}{deep learning}
\LB{closerangel}{587}{418}{27}{close-range photogrammetry}
\LB{iotl}{839}{206}{23}{internet of things}
\LB{changedetl}{1032}{633}{23}{change detection}
\LB{rockartl}{898}{868}{24}{rock art}
\LB{uasl}{693}{483}{22}{uas}
\end{tikzpicture}
\end{document}
